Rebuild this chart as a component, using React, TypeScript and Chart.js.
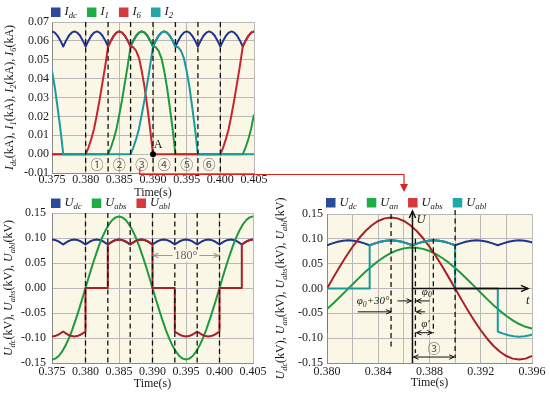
import { useEffect, useRef } from 'react';
import { Chart, registerables } from 'chart.js';
Chart.register(...registerables);

// ---------------- data ----------------
// sample instants (s) for ripple / commutation waveforms
const T_FINE = [
  0.375, 0.37542, 0.37583, 0.37625, 0.37667, 0.37708, 0.3775, 0.37792, 0.37833, 0.37875, 0.37917, 0.37958,
  0.38, 0.38042, 0.38083, 0.38125, 0.38167, 0.38208, 0.3825, 0.38292, 0.38333, 0.38375, 0.38417, 0.38458,
  0.385, 0.38542, 0.38583, 0.38625, 0.38667, 0.38708, 0.3875, 0.38792, 0.38833, 0.38875, 0.38917, 0.38958,
  0.39, 0.39042, 0.39083, 0.39125, 0.39167, 0.39208, 0.3925, 0.39292, 0.39333, 0.39375, 0.39417, 0.39458,
  0.395, 0.39542, 0.39583, 0.39625, 0.39667, 0.39708, 0.3975, 0.39792, 0.39833, 0.39875, 0.39917, 0.39958,
  0.4, 0.40042, 0.40083, 0.40125, 0.40167, 0.40208, 0.4025, 0.40292, 0.40333, 0.40375, 0.40417, 0.40458,
  0.405,
];
const I_DC = [
  0.065, 0.0644, 0.0627, 0.0601, 0.057, 0.0601, 0.0627, 0.0644, 0.065, 0.0644, 0.0627, 0.0601,
  0.057, 0.0601, 0.0627, 0.0644, 0.065, 0.0644, 0.0627, 0.0601, 0.057, 0.0601, 0.0627, 0.0644,
  0.065, 0.0644, 0.0627, 0.0601, 0.057, 0.0601, 0.0627, 0.0644, 0.065, 0.0644, 0.0627, 0.0601,
  0.057, 0.0601, 0.0627, 0.0644, 0.065, 0.0644, 0.0627, 0.0601, 0.057, 0.0601, 0.0627, 0.0644,
  0.065, 0.0644, 0.0627, 0.0601, 0.057, 0.0601, 0.0627, 0.0644, 0.065, 0.0644, 0.0627, 0.0601,
  0.057, 0.0601, 0.0627, 0.0644, 0.065, 0.0644, 0.0627, 0.0601, 0.057, 0.0601, 0.0627, 0.0644,
  0.065,
];
const I_1 = [
  0, 0, 0, 0, 0, 0, 0, 0, 0, 0, 0, 0,
  0, 0, 0, 0, 0, 0, 0, 0, 0, 0.0035, 0.008, 0.0135,
  0.021, 0.029, 0.038, 0.047, 0.057, 0.0601, 0.0627, 0.0644, 0.065, 0.0644, 0.0627, 0.0601,
  0.057, 0.0566, 0.0547, 0.0509, 0.044, 0.0354, 0.0247, 0.0131, 0, 0, 0, 0,
  0, 0, 0, 0, 0, 0, 0, 0, 0, 0, 0, 0,
  0, 0, 0, 0, 0, 0, 0, 0, 0, 0.0035, 0.008, 0.0135,
  0.021,
];
const I_6 = [
  0, 0, 0, 0, 0, 0, 0, 0, 0, 0, 0, 0,
  0, 0.0035, 0.008, 0.0135, 0.021, 0.029, 0.038, 0.047, 0.057, 0.0601, 0.0627, 0.0644,
  0.065, 0.0644, 0.0627, 0.0601, 0.057, 0.0566, 0.0547, 0.0509, 0.044, 0.0354, 0.0247, 0.0131,
  0, 0, 0, 0, 0, 0, 0, 0, 0, 0, 0, 0,
  0, 0, 0, 0, 0, 0, 0, 0, 0, 0, 0, 0,
  0, 0.0035, 0.008, 0.0135, 0.021, 0.029, 0.038, 0.047, 0.057, 0.0601, 0.0627, 0.0644,
  0.065,
];
const I_2 = [
  0.044, 0.0354, 0.0247, 0.0131, 0, 0, 0, 0, 0, 0, 0, 0,
  0, 0, 0, 0, 0, 0, 0, 0, 0, 0, 0, 0,
  0, 0, 0, 0, 0, 0.0035, 0.008, 0.0135, 0.021, 0.029, 0.038, 0.047,
  0.057, 0.0601, 0.0627, 0.0644, 0.065, 0.0644, 0.0627, 0.0601, 0.057, 0.0566, 0.0547, 0.0509,
  0.044, 0.0354, 0.0247, 0.0131, 0, 0, 0, 0, 0, 0, 0, 0,
  0, 0, 0, 0, 0, 0, 0, 0, 0, 0, 0, 0,
  0,
];
const U_DC = [
  0.097, 0.0962, 0.0941, 0.0908, 0.087, 0.0908, 0.0941, 0.0962, 0.097, 0.0962, 0.0941, 0.0908,
  0.087, 0.0908, 0.0941, 0.0962, 0.097, 0.0962, 0.0941, 0.0908, 0.087, 0.0908, 0.0941, 0.0962,
  0.097, 0.0962, 0.0941, 0.0908, 0.087, 0.0908, 0.0941, 0.0962, 0.097, 0.0962, 0.0941, 0.0908,
  0.087, 0.0908, 0.0941, 0.0962, 0.097, 0.0962, 0.0941, 0.0908, 0.087, 0.0908, 0.0941, 0.0962,
  0.097, 0.0962, 0.0941, 0.0908, 0.087, 0.0908, 0.0941, 0.0962, 0.097, 0.0962, 0.0941, 0.0908,
  0.087, 0.0908, 0.0941, 0.0962, 0.097, 0.0962, 0.0941, 0.0908, 0.087, 0.0908, 0.0941, 0.0962,
  0.097,
];
const T_SINE = [
  0.375, 0.3755, 0.376, 0.3765, 0.377, 0.3775, 0.378, 0.3785, 0.379, 0.3795,
  0.38, 0.3805, 0.381, 0.3815, 0.382, 0.3825, 0.383, 0.3835, 0.384, 0.3845,
  0.385, 0.3855, 0.386, 0.3865, 0.387, 0.3875, 0.388, 0.3885, 0.389, 0.3895,
  0.39, 0.3905, 0.391, 0.3915, 0.392, 0.3925, 0.393, 0.3935, 0.394, 0.3945,
  0.395, 0.3955, 0.396, 0.3965, 0.397, 0.3975, 0.398, 0.3985, 0.399, 0.3995,
  0.4, 0.4005, 0.401, 0.4015, 0.402, 0.4025, 0.403, 0.4035, 0.404, 0.4045,
  0.405,
];
const U_ABS = [
  -0.143, -0.1412, -0.136, -0.1274, -0.1157, -0.1011, -0.0841, -0.0649, -0.0442, -0.0224,
  0, 0.0224, 0.0442, 0.0649, 0.0841, 0.1011, 0.1157, 0.1274, 0.136, 0.1412,
  0.143, 0.1412, 0.136, 0.1274, 0.1157, 0.1011, 0.0841, 0.0649, 0.0442, 0.0224,
  0, -0.0224, -0.0442, -0.0649, -0.0841, -0.1011, -0.1157, -0.1274, -0.136, -0.1412,
  -0.143, -0.1412, -0.136, -0.1274, -0.1157, -0.1011, -0.0841, -0.0649, -0.0442, -0.0224,
  0, 0.0224, 0.0442, 0.0649, 0.0841, 0.1011, 0.1157, 0.1274, 0.136, 0.1412,
  0.143,
];
const T_ABL = [
  0.375, 0.37542, 0.37583, 0.37625, 0.37667, 0.37708, 0.3775, 0.37792, 0.37833, 0.37875, 0.37917, 0.37958, 0.38,
  0.38, 0.38333, 0.38333,
  0.38375, 0.38417, 0.38458, 0.385, 0.38542, 0.38583, 0.38625, 0.38667, 0.38708, 0.3875, 0.38792, 0.38833, 0.38875, 0.38917, 0.38958, 0.39,
  0.39, 0.39333, 0.39333,
  0.39375, 0.39417, 0.39458, 0.395, 0.39542, 0.39583, 0.39625, 0.39667, 0.39708, 0.3975, 0.39792, 0.39833, 0.39875, 0.39917, 0.39958, 0.4,
  0.4, 0.40333, 0.40333,
  0.40375, 0.40417, 0.40458, 0.405,
];
const U_ABL = [
  -0.097, -0.0962, -0.0941, -0.0908, -0.087, -0.0908, -0.0941, -0.0962, -0.097, -0.0962, -0.0941, -0.0908, -0.087,
  0, 0, 0.087,
  0.0908, 0.0941, 0.0962, 0.097, 0.0962, 0.0941, 0.0908, 0.087, 0.0908, 0.0941, 0.0962, 0.097, 0.0962, 0.0941, 0.0908, 0.087,
  0, 0, -0.087,
  -0.0908, -0.0941, -0.0962, -0.097, -0.0962, -0.0941, -0.0908, -0.087, -0.0908, -0.0941, -0.0962, -0.097, -0.0962, -0.0941, -0.0908, -0.087,
  0, 0, 0.087,
  0.0908, 0.0941, 0.0962, 0.097,
];
const T_AN = [
  0.38, 0.3805, 0.381, 0.3815, 0.382, 0.3825, 0.383, 0.3835, 0.384, 0.3845,
  0.385, 0.3855, 0.386, 0.3865, 0.387, 0.3875, 0.388, 0.3885, 0.389, 0.3895,
  0.39, 0.3905, 0.391, 0.3915, 0.392, 0.3925, 0.393, 0.3935, 0.394, 0.3945,
  0.395, 0.3955, 0.396,
];
const U_AN = [
  -0.0413, -0.0296, -0.0172, -0.0043, 0.0086, 0.0214, 0.0336, 0.045, 0.0553, 0.0642,
  0.0715, 0.0771, 0.0808, 0.0825, 0.0821, 0.0798, 0.0755, 0.0693, 0.0614, 0.052,
  0.0413, 0.0296, 0.0172, 0.0043, -0.0086, -0.0214, -0.0336, -0.045, -0.0553, -0.0642,
  -0.0715, -0.0771, -0.0808,
];
const COMMUTATION_TIMES = [0.38, 0.38333, 0.38667, 0.39, 0.39333, 0.39667, 0.4];
const INTERVAL_LABELS = ['①', '②', '③', '④', '⑤', '⑥'];
const POINT_A = { t: 0.39, v: 0 };

// ---------------- styling ----------------
const SERIF = "'Liberation Serif', 'Times New Roman', serif";
const CJK = "'Noto Sans CJK SC', 'DejaVu Sans', sans-serif";
const C = { blue: '#1f3490', green: '#1b9b3b', red: '#c8242b', darkRed: '#ab1e25', teal: '#1b9a9d' };
const BOX = { blue: '#2b4a9b', green: '#1fab45', red: '#d43a3b', teal: '#22a6aa' };
const PLOT_BG = '#fbf7e6';
const GRID = '#b9b9b9';
const TEXT = '#1a1a1a';

type Seg = { t: string; it?: boolean; sub?: boolean };
const sym = (b: string, s: string): Seg[] => [{ t: b, it: true }, { t: s, it: true, sub: true }];

const pts = (ts: number[], vs: number[]) => ts.map((t, i) => ({ x: t, y: vs[i] }));

function segFont(s: Seg, size: number) {
  const sz = s.sub ? size * 0.7 : size;
  return `${s.it ? 'italic ' : ''}${sz}px ${SERIF}`;
}
function richWidth(ctx: CanvasRenderingContext2D, segs: Seg[], size: number) {
  let w = 0;
  for (const s of segs) { ctx.font = segFont(s, size); w += ctx.measureText(s.t).width; }
  return w;
}
function drawRich(ctx: CanvasRenderingContext2D, segs: Seg[], x: number, y: number, size: number, color = TEXT) {
  ctx.textAlign = 'left';
  ctx.textBaseline = 'middle';
  ctx.fillStyle = color;
  let cx = x;
  for (const s of segs) {
    ctx.font = segFont(s, size);
    ctx.fillText(s.t, cx, s.sub ? y + size * 0.3 : y);
    cx += ctx.measureText(s.t).width;
  }
  return cx;
}
function drawLegend(ctx: CanvasRenderingContext2D, items: { label: Seg[]; color: string }[], x0: number, yc: number) {
  let x = x0;
  ctx.save();
  for (const it of items) {
    ctx.fillStyle = it.color;
    ctx.fillRect(x, yc - 4.5, 9.5, 9.5);
    x += 9.5 + 4;
    x = drawRich(ctx, it.label, x, yc, 12.5);
    x += 10;
  }
  ctx.restore();
}
function drawYTitle(ctx: CanvasRenderingContext2D, segs: Seg[], x: number, yc: number) {
  ctx.save();
  const w = richWidth(ctx, segs, 12);
  ctx.translate(x, yc);
  ctx.rotate(-Math.PI / 2);
  drawRich(ctx, segs, -w / 2, 0, 12);
  ctx.restore();
}
function line(ctx: CanvasRenderingContext2D, x1: number, y1: number, x2: number, y2: number) {
  ctx.beginPath(); ctx.moveTo(x1, y1); ctx.lineTo(x2, y2); ctx.stroke();
}
function head(ctx: CanvasRenderingContext2D, x: number, y: number, dx: number, dy: number, s = 5) {
  const px = -dy, py = dx;
  ctx.beginPath();
  ctx.moveTo(x - dx * s + px * s * 0.45, y - dy * s + py * s * 0.45);
  ctx.lineTo(x, y);
  ctx.lineTo(x - dx * s - px * s * 0.45, y - dy * s - py * s * 0.45);
  ctx.stroke();
}
function hArrow(ctx: CanvasRenderingContext2D, x1: number, x2: number, y: number, both = false, s = 5) {
  line(ctx, x1, y, x2, y);
  const d = x2 > x1 ? 1 : -1;
  head(ctx, x2, y, d, 0, s);
  if (both) head(ctx, x1, y, -d, 0, s);
}
function dashedV(ctx: CanvasRenderingContext2D, x: number, y1: number, y2: number) {
  ctx.save();
  ctx.strokeStyle = '#111';
  ctx.lineWidth = 1.3;
  ctx.setLineDash([5, 3.5]);
  line(ctx, x, y1, x, y2);
  ctx.restore();
}
function fillBg(chart: any) {
  const { ctx, chartArea: a } = chart;
  ctx.save();
  ctx.fillStyle = PLOT_BG;
  ctx.fillRect(a.left, a.top, a.right - a.left, a.bottom - a.top);
  ctx.restore();
}

function xScale(min: number, max: number, step: number, every: number, pad: number, height: number) {
  return {
    type: 'linear', min, max,
    ticks: {
      stepSize: step, autoSkip: false, maxRotation: 0, padding: pad, color: TEXT,
      font: { family: SERIF, size: 12 },
      callback: (v: any, i: number) => (i % every === 0 ? Number(v).toFixed(3) : ''),
    },
    grid: { color: GRID, lineWidth: 1, drawTicks: false },
    border: { color: '#8a8a8a', width: 1 },
    title: { display: true, text: 'Time(s)', color: TEXT, padding: { top: 0, bottom: 0 }, font: { family: SERIF, size: 12 } },
    afterFit: (s: any) => { s.height = height; },
  };
}
function yScale(min: number, max: number, step: number, pad: number, width: number) {
  return {
    type: 'linear', min, max,
    ticks: {
      stepSize: step, autoSkip: false, padding: pad, color: TEXT,
      font: { family: SERIF, size: 12 },
      callback: (v: any) => Number(v).toFixed(2),
    },
    grid: { color: GRID, lineWidth: 1, drawTicks: false },
    border: { color: '#8a8a8a', width: 1 },
    afterFit: (s: any) => { s.width = width; },
  };
}
const ds = (data: any[], color: string) => ({
  data, borderColor: color, backgroundColor: color, borderWidth: 2, pointRadius: 0,
  tension: 0, fill: false, borderJoinStyle: 'round',
});
const baseOpts = (padding: any, scales: any) => ({
  responsive: false, animation: false, events: [],
  layout: { padding },
  plugins: { legend: { display: false }, tooltip: { enabled: false } },
  scales,
});

// ---------- chart configs ----------
function topConfig(): any {
  const plugin = {
    id: 'topDeco',
    beforeDraw: fillBg,
    afterDatasetsDraw(chart: any) {
      const { ctx, chartArea: a } = chart;
      const x = chart.scales.x, y = chart.scales.y;
      ctx.save();
      COMMUTATION_TIMES.forEach((t) => dashedV(ctx, x.getPixelForValue(t), a.top, a.bottom));
      ctx.fillStyle = '#555';
      ctx.font = `13px ${CJK}`;
      ctx.textAlign = 'center';
      ctx.textBaseline = 'middle';
      INTERVAL_LABELS.forEach((s, i) => {
        const mid = (COMMUTATION_TIMES[i] + COMMUTATION_TIMES[i + 1]) / 2;
        ctx.fillText(s, x.getPixelForValue(mid), y.getPixelForValue(-0.005));
      });
      const ax = x.getPixelForValue(POINT_A.t), ay = y.getPixelForValue(POINT_A.v);
      ctx.fillStyle = '#000';
      ctx.beginPath(); ctx.arc(ax, ay, 3, 0, Math.PI * 2); ctx.fill();
      ctx.font = `12px ${SERIF}`;
      ctx.fillStyle = TEXT;
      ctx.fillText('A', ax + 5, ay - 9);
      ctx.restore();
    },
    afterDraw(chart: any) {
      const { ctx, chartArea: a } = chart;
      const x = chart.scales.x;
      drawLegend(ctx, [
        { label: sym('I', 'dc'), color: BOX.blue },
        { label: sym('I', '1'), color: BOX.green },
        { label: sym('I', '6'), color: BOX.red },
        { label: sym('I', '2'), color: BOX.teal },
      ], a.left - 1, 12);
      drawYTitle(ctx, [
        ...sym('I', 'dc'), { t: '(kA), ' }, ...sym('I', '1'), { t: '(kA), ' },
        ...sym('I', '2'), { t: '(kA), ' }, ...sym('I', '6'), { t: '(kA)' },
      ], 10, (a.top + a.bottom) / 2);
      // red link arrow from interval ③ to the zoomed chart
      const sx = x.getPixelForValue((COMMUTATION_TIMES[2] + COMMUTATION_TIMES[3]) / 2) - 2;
      ctx.save();
      ctx.strokeStyle = '#e0201e';
      ctx.fillStyle = '#e0201e';
      ctx.lineWidth = 1.2;
      ctx.beginPath();
      ctx.moveTo(sx, a.bottom - 5);
      ctx.lineTo(sx, a.bottom + 1.5);
      ctx.lineTo(404, a.bottom + 1.5);
      ctx.lineTo(404, 185);
      ctx.stroke();
      ctx.beginPath();
      ctx.moveTo(400, 184); ctx.lineTo(408, 184); ctx.lineTo(404, 192); ctx.closePath();
      ctx.fill();
      ctx.restore();
    },
  };
  return {
    type: 'line',
    data: {
      datasets: [
        ds(pts(T_FINE, I_2), C.teal),
        ds(pts(T_FINE, I_6), C.red),
        ds(pts(T_FINE, I_1), C.green),
        ds(pts(T_FINE, I_DC), C.blue),
      ],
    },
    options: baseOpts({ left: 0, top: 22, right: 296, bottom: 0 }, {
      x: xScale(0.375, 0.405, 0.005, 1, 0, 27),
      y: yScale(-0.01, 0.07, 0.01, 3, 52),
    }),
    plugins: [plugin],
  };
}

function bottomLeftConfig(): any {
  const plugin = {
    id: 'blDeco',
    beforeDraw: fillBg,
    afterDatasetsDraw(chart: any) {
      const { ctx, chartArea: a } = chart;
      const x = chart.scales.x, y = chart.scales.y;
      COMMUTATION_TIMES.forEach((t) => dashedV(ctx, x.getPixelForValue(t), a.top, a.bottom));
      // 180° marker between two zero crossings
      ctx.save();
      const x1 = x.getPixelForValue(0.39) + 1, x2 = x.getPixelForValue(0.4) - 1, yy = y.getPixelForValue(0.065);
      ctx.strokeStyle = '#9a9a9a';
      ctx.lineWidth = 1.2;
      hArrow(ctx, x1, x2, yy, true, 5);
      ctx.font = `12px ${SERIF}`;
      const label = '180°';
      const w = ctx.measureText(label).width;
      const cx = x.getPixelForValue(0.395);
      ctx.fillStyle = PLOT_BG;
      ctx.fillRect(cx - w / 2 - 2, yy - 6, w + 4, 12);
      ctx.fillStyle = '#666';
      ctx.textAlign = 'center';
      ctx.textBaseline = 'middle';
      ctx.fillText(label, cx, yy);
      ctx.restore();
    },
    afterDraw(chart: any) {
      const { ctx, chartArea: a } = chart;
      drawLegend(ctx, [
        { label: sym('U', 'dc'), color: BOX.blue },
        { label: sym('U', 'abs'), color: BOX.green },
        { label: sym('U', 'abl'), color: BOX.red },
      ], a.left - 1, 8);
      drawYTitle(ctx, [
        ...sym('U', 'dc'), { t: '(kV), ' }, ...sym('U', 'abs'), { t: '(kV), ' },
        ...sym('U', 'abl'), { t: '(kV)' },
      ], 9, (a.top + a.bottom) / 2);
    },
  };
  return {
    type: 'line',
    data: {
      datasets: [
        ds(pts(T_ABL, U_ABL), C.darkRed),
        ds(pts(T_SINE, U_ABS), C.green),
        ds(pts(T_FINE, U_DC), C.blue),
      ],
    },
    options: baseOpts({ left: 0, top: 18, right: 22, bottom: 7 }, {
      x: xScale(0.375, 0.405, 0.005, 1, 2, 28),
      y: yScale(-0.15, 0.15, 0.05, 6, 52),
    }),
    plugins: [plugin],
  };
}

function bottomRightConfig(): any {
  const T_U = COMMUTATION_TIMES[2];
  const plugin = {
    id: 'brDeco',
    beforeDraw: fillBg,
    afterDraw(chart: any) {
      const { ctx, chartArea: a } = chart;
      const x = chart.scales.x, y = chart.scales.y;
      const xp = (v: number) => x.getPixelForValue(v);
      const yp = (v: number) => y.getPixelForValue(v);
      // dashed markers
      dashedV(ctx, xp(0.385), a.top, yp(-0.118));
      dashedV(ctx, xp(0.3869), yp(0.1), yp(-0.13));
      dashedV(ctx, xp(0.3883), yp(0.1), yp(-0.09));
      dashedV(ctx, xp(0.39), a.top - 4, yp(-0.14));
      ctx.save();
      ctx.strokeStyle = '#111';
      ctx.lineWidth = 1.5;
      // U axis & t axis
      const ux = xp(T_U), y0 = yp(0);
      line(ctx, ux, a.bottom, ux, a.top - 3);
      head(ctx, ux, a.top - 3, 0, -1, 7);
      line(ctx, ux, y0, a.right - 4, y0);
      head(ctx, a.right - 4, y0, 1, 0, 7);
      drawRich(ctx, [{ t: 'U', it: true }], ux + 4, a.top + 6, 12.5);
      drawRich(ctx, [{ t: 't', it: true }], a.right - 6, y0 + 12, 12.5);
      // angle arrows
      ctx.lineWidth = 1;
      hArrow(ctx, xp(0.3824), xp(0.385), yp(-0.047), false, 5);
      hArrow(ctx, xp(0.3855), ux - 1, yp(-0.025), false, 5);
      hArrow(ctx, xp(0.388), xp(0.3869) + 1, yp(-0.025), false, 5);
      hArrow(ctx, xp(0.38765), xp(0.3869) + 1, yp(-0.047), false, 5);
      hArrow(ctx, xp(0.3869) + 1, xp(0.3883) - 1, yp(-0.089), true, 5);
      hArrow(ctx, ux + 1, xp(0.39) - 1, yp(-0.138), true, 5);
      const s1: Seg[] = [...sym('φ', '0'), { t: '+30°', it: true }];
      const w1 = richWidth(ctx, s1, 11);
      drawRich(ctx, s1, xp(0.3836) - w1 / 2, yp(-0.026), 11);
      drawRich(ctx, sym('φ', '0'), xp(0.3874), yp(-0.007), 11);
      drawRich(ctx, [{ t: "φ'", it: true }], xp(0.38735), yp(-0.071), 11);
      ctx.fillStyle = '#555';
      ctx.font = `13px ${CJK}`;
      ctx.textAlign = 'center';
      ctx.textBaseline = 'middle';
      ctx.fillText(INTERVAL_LABELS[2], xp(0.38835), yp(-0.12));
      ctx.restore();
      drawLegend(ctx, [
        { label: sym('U', 'dc'), color: BOX.blue },
        { label: sym('U', 'an'), color: BOX.green },
        { label: sym('U', 'abs'), color: BOX.red },
        { label: sym('U', 'abl'), color: BOX.teal },
      ], a.left - 1, 7.5);
      drawYTitle(ctx, [
        ...sym('U', 'dc'), { t: '(kV), ' }, ...sym('U', 'an'), { t: '(kV), ' },
        ...sym('U', 'abs'), { t: '(kV), ' }, ...sym('U', 'abl'), { t: '(kV)' },
      ], 11, (a.top + a.bottom) / 2);
    },
  };
  return {
    type: 'line',
    data: {
      datasets: [
        ds(pts(T_ABL, U_ABL), C.teal),
        ds(pts(T_SINE, U_ABS), C.darkRed),
        ds(pts(T_AN, U_AN), C.green),
        ds(pts(T_FINE, U_DC), C.blue),
      ],
    },
    options: baseOpts({ left: 0, top: 19, right: 18, bottom: 8 }, {
      x: xScale(0.38, 0.396, 0.002, 2, 2, 27),
      y: yScale(-0.15, 0.15, 0.05, 4, 57),
    }),
    plugins: [plugin],
  };
}

export default function App() {
  const a = useRef<HTMLCanvasElement>(null);
  const b = useRef<HTMLCanvasElement>(null);
  const c = useRef<HTMLCanvasElement>(null);
  useEffect(() => {
    const charts = [
      new Chart(a.current as HTMLCanvasElement, topConfig()),
      new Chart(b.current as HTMLCanvasElement, bottomLeftConfig()),
      new Chart(c.current as HTMLCanvasElement, bottomRightConfig()),
    ];
    return () => charts.forEach((ch) => ch.destroy());
  }, []);
  return (
    <div style={{ position: 'absolute', left: 0, top: 0, width: 550, height: 398, background: '#fff', overflow: 'hidden' }}>
      <canvas ref={a} width={550} height={200} style={{ position: 'absolute', left: 0, top: 0 }} />
      <canvas ref={b} width={275} height={203} style={{ position: 'absolute', left: 0, top: 195 }} />
      <canvas ref={c} width={280} height={203} style={{ position: 'absolute', left: 270, top: 195 }} />
    </div>
  );
}
